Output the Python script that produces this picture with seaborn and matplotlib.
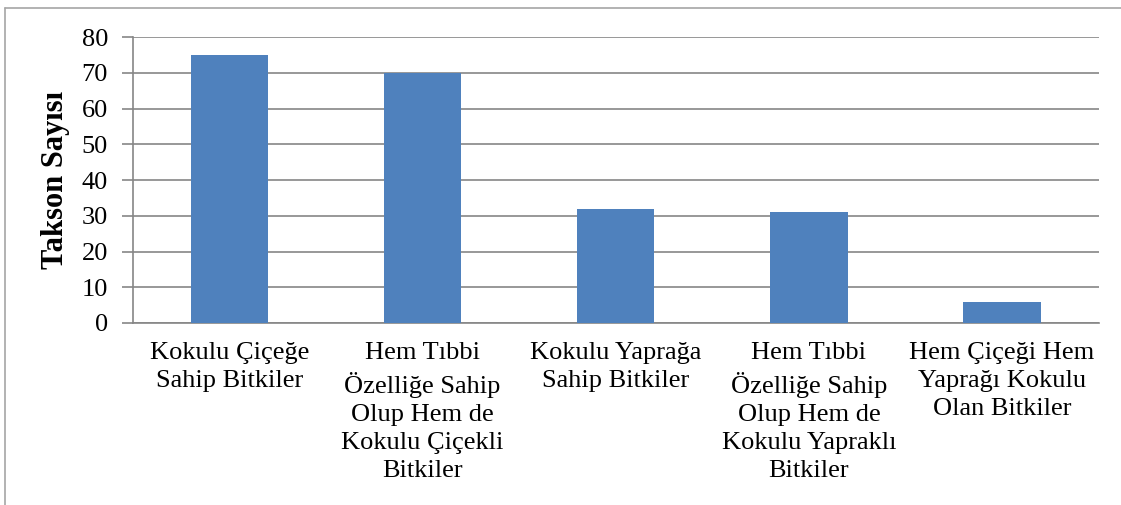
import matplotlib.pyplot as plt
import pandas as pd
import seaborn as sns
from matplotlib.lines import Line2D

# ── Data ──────────────────────────────────────────────────────────────────────
categories = [
    "Kokulu Çiçeğe Sahip Bitkiler",
    "Hem Tıbbi Özelliğe Sahip Olup Hem de Kokulu Çiçekli Bitkiler",
    "Kokulu Yaprağa Sahip Bitkiler",
    "Hem Tıbbi Özelliğe Sahip Olup Hem de Kokulu Yapraklı Bitkiler",
    "Hem Çiçeği Hem Yaprağı Kokulu Olan Bitkiler",
]
tick_labels = [
    "Kokulu Çiçeğe\nSahip Bitkiler",
    "Hem Tıbbi\nÖzelliğe Sahip\nOlup Hem de\nKokulu Çiçekli\nBitkiler",
    "Kokulu Yaprağa\nSahip Bitkiler",
    "Hem Tıbbi\nÖzelliğe Sahip\nOlup Hem de\nKokulu Yapraklı\nBitkiler",
    "Hem Çiçeği Hem\nYaprağı Kokulu\nOlan Bitkiler",
]
counts = [75, 70, 32, 31, 6]
y_ticks = [0, 10, 20, 30, 40, 50, 60, 70, 80]

df = pd.DataFrame({"category": categories, "count": counts})

# ── Style ─────────────────────────────────────────────────────────────────────
sns.set_theme(style="white")
plt.rcParams["font.family"] = ["Liberation Serif", "DejaVu Serif"]
plt.rcParams["text.color"] = "black"
GRID = "#868686"

fig = plt.figure(figsize=(11.21, 5.05), dpi=100)
ax = fig.add_axes([0.1186, 0.3604, 0.8614, 0.5663])

sns.barplot(data=df, x="category", y="count", color="#4F81BD",
            saturation=1, width=0.4, linewidth=0, ax=ax, zorder=3)

ax.set_ylim(0, 80)
ax.set_xlim(-0.5, len(categories) - 0.5)
ax.set_yticks(y_ticks)
ax.set_yticklabels([str(v) for v in y_ticks], fontsize=19, color="black")
ax.yaxis.grid(True, color=GRID, linewidth=1.2, zorder=0)
ax.set_axisbelow(True)

# category labels centred on bars, tick marks on category boundaries
ax.set_xticks(range(len(categories)))
ax.set_xticklabels(tick_labels, fontsize=19, linespacing=1.35, color="black")
ax.tick_params(axis="x", length=0, pad=14)
ax.set_xticks([i - 0.5 for i in range(len(categories) + 1)], minor=True)
ax.tick_params(axis="x", which="minor", length=8, width=1.2, color=GRID, direction="out")
ax.tick_params(axis="y", length=8, width=1.2, color=GRID, direction="out", pad=10, left=True)

ax.set_xlabel("")
ax.set_ylabel("Takson Sayısı", fontsize=22, fontweight="bold", color="black", labelpad=8)

for side in ["top", "right"]:
    ax.spines[side].set_visible(False)
for side in ["left", "bottom"]:
    ax.spines[side].set_color(GRID)
    ax.spines[side].set_linewidth(1.2)

# outer chart border (left and top visible in reference)
fig.add_artist(Line2D([5 / 1121, 5 / 1121], [0, 1 - 8 / 505], color="#a6a6a6", lw=1.2))
fig.add_artist(Line2D([5 / 1121, 1], [1 - 8 / 505, 1 - 8 / 505], color="#a6a6a6", lw=1.2))

plt.savefig("out.png", dpi=100)
